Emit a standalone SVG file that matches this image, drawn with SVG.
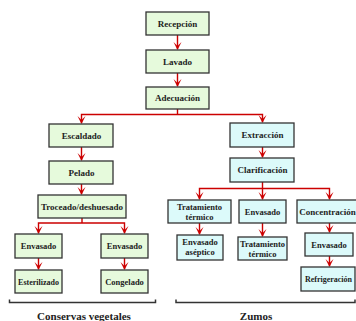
<svg xmlns="http://www.w3.org/2000/svg" width="356" height="321" viewBox="0 0 356 321">
<style>
.g{fill:#e6fadc;stroke:#333;stroke-width:1.3}
.c{fill:#dcfafa;stroke:#333;stroke-width:1.3}
text{font-family:"Liberation Serif","Times New Roman",serif;font-weight:bold;fill:#222;text-anchor:middle}
.t9{font-size:9px}
.t8{font-size:8.5px}
.l{fill:none;stroke:#cc0000;stroke-width:1.4}
.a{fill:#cc0000}
.br{fill:none;stroke:#333;stroke-width:1.5}
.lab{font-size:11px}
</style>
<defs>
<path id="ah" class="a" d="M-4,-8 L0,0 L4,-8 L0,-4 Z"/>
</defs>
<g id="connectors">
<path class="l" d="M177.5,35V49M177.5,73V86M177.5,109V114.5H81.5V123M177.5,114.5H262.5V122M81.5,147V160M81.5,184V194M82,218V223H38.5V233M82,223H124.5V233M38.5,258V269M124.5,258V269M262.5,147V157M262.5,182V188.5H199.5V199M262.5,188.5H329.5V199M262.5,188.5V199M199.5,223V234M262.5,223V236M329.5,223V232M329.5,256V266"/>
<use href="#ah" x="177.5" y="50"/>
<use href="#ah" x="177.5" y="87"/>
<use href="#ah" x="81.5" y="124"/>
<use href="#ah" x="262.5" y="123"/>
<use href="#ah" x="81.5" y="161"/>
<use href="#ah" x="81.5" y="195"/>
<use href="#ah" x="38.5" y="234"/>
<use href="#ah" x="124.5" y="234"/>
<use href="#ah" x="38.5" y="270"/>
<use href="#ah" x="124.5" y="270"/>
<use href="#ah" x="262.5" y="158"/>
<use href="#ah" x="199.5" y="200"/>
<use href="#ah" x="262.5" y="200"/>
<use href="#ah" x="329.5" y="200"/>
<use href="#ah" x="199.5" y="235"/>
<use href="#ah" x="262.5" y="237"/>
<use href="#ah" x="329.5" y="233"/>
<use href="#ah" x="329.5" y="267"/>
</g>
<g id="recepcion"><rect class="g" x="146" y="12" width="63" height="23"/><text class="t9" x="177.5" y="26.5">Recepción</text></g>
<g id="lavado"><rect class="g" x="146" y="50" width="63" height="23"/><text class="t9" x="177.5" y="64.5">Lavado</text></g>
<g id="adecuacion"><rect class="g" x="146" y="87" width="63" height="22"/><text class="t9" x="177.5" y="101">Adecuación</text></g>
<g id="escaldado"><rect class="g" x="49" y="124" width="64" height="23"/><text class="t9" x="81.5" y="138.5">Escaldado</text></g>
<g id="pelado"><rect class="g" x="49" y="161" width="64" height="23"/><text class="t9" x="81.5" y="175.5">Pelado</text></g>
<g id="troceado"><rect class="g" x="38" y="195" width="88" height="23"/><text class="t9" x="82" y="209.5">Troceado/deshuesado</text></g>
<g id="envasado-l"><rect class="g" x="15" y="234" width="47" height="24"/><text class="t8" x="38.5" y="249">Envasado</text></g>
<g id="esterilizado"><rect class="g" x="15" y="270" width="47" height="23"/><text class="t8" x="38.5" y="284.5" style="font-size:8px">Esterilizado</text></g>
<g id="envasado-r"><rect class="g" x="101" y="234" width="47" height="24"/><text class="t8" x="124.5" y="249">Envasado</text></g>
<g id="congelado"><rect class="g" x="101" y="270" width="47" height="23"/><text class="t8" x="124.5" y="284.5">Congelado</text></g>
<g id="extraccion"><rect class="c" x="230" y="123" width="64" height="24"/><text class="t9" x="262.5" y="138">Extracción</text></g>
<g id="clarificacion"><rect class="c" x="230" y="158" width="64" height="24"/><text class="t9" x="262.5" y="173">Clarificación</text></g>
<g id="tratamiento1"><rect class="c" x="168" y="200" width="63" height="23"/><text class="t8" x="199.5" y="209.5">Tratamiento</text><text class="t8" x="199.5" y="219.5">térmico</text></g>
<g id="envasado-m"><rect class="c" x="239" y="200" width="47" height="23"/><text class="t8" x="262.5" y="214.5">Envasado</text></g>
<g id="concentracion"><rect class="c" x="297" y="200" width="62" height="23"/><text class="t9" x="327.5" y="214.5">Concentración</text></g>
<g id="envasado-aseptico"><rect class="c" x="177" y="235" width="46" height="25"/><text class="t8" x="200" y="245">Envasado</text><text class="t8" x="200" y="255">aséptico</text></g>
<g id="tratamiento2"><rect class="c" x="238" y="237" width="49" height="23"/><text class="t8" x="262.5" y="246.5">Tratamiento</text><text class="t8" x="262.5" y="256.5">térmico</text></g>
<g id="envasado-c"><rect class="c" x="305" y="233" width="48" height="23"/><text class="t8" x="329" y="247.5">Envasado</text></g>
<g id="refrigeracion"><rect class="c" x="301" y="267" width="54" height="24"/><text class="t8" x="328.5" y="282" style="font-size:8px">Refrigeración</text></g>
<g id="conservas"><path class="br" d="M9.5,299.5V302.5H155.5V299.5"/><text class="lab" x="84" y="320">Conservas vegetales</text></g>
<g id="zumos"><path class="br" d="M176,299.5V302.5H355V299.5"/><text class="lab" x="256" y="320">Zumos</text></g>
</svg>
